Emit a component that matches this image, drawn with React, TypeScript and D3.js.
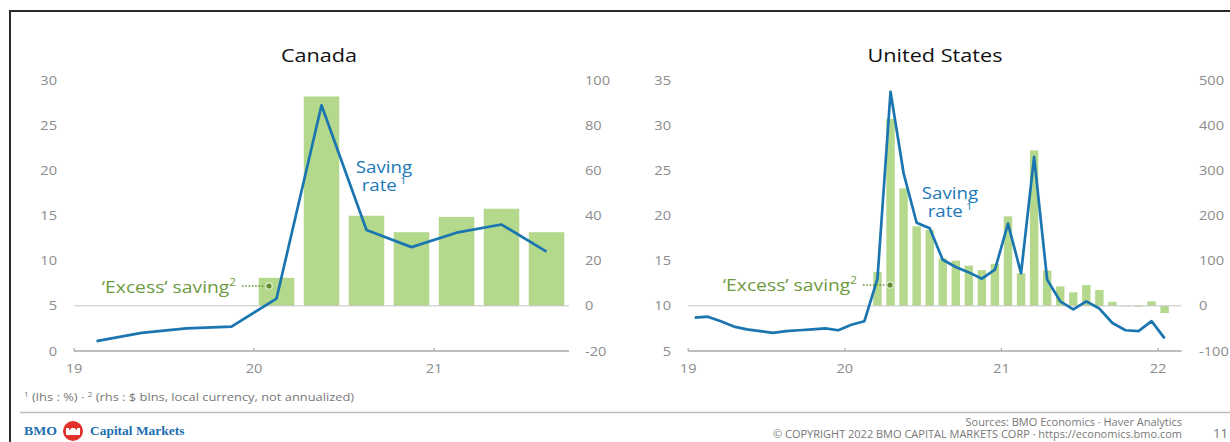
import React from "react";
import * as d3 from "d3";

// ---------- DATA ----------
const canadaQuarters = ["19Q1", "19Q2", "19Q3", "19Q4", "20Q1", "20Q2", "20Q3", "20Q4", "21Q1", "21Q2", "21Q3"];
const canadaSavingRate = [1.1, 2.0, 2.5, 2.7, 5.8, 27.2, 13.4, 11.5, 13.1, 14.0, 11.0];
const canadaExcessQuarters = ["20Q1", "20Q2", "20Q3", "20Q4", "21Q1", "21Q2", "21Q3"];
const canadaExcess = [12.4, 92.7, 39.9, 32.6, 39.4, 43.0, 32.6];

const usMonths = [
  "2019-01", "2019-02", "2019-03", "2019-04", "2019-05", "2019-06", "2019-07", "2019-08", "2019-09", "2019-10", "2019-11", "2019-12",
  "2020-01", "2020-02", "2020-03", "2020-04", "2020-05", "2020-06", "2020-07", "2020-08", "2020-09", "2020-10", "2020-11", "2020-12",
  "2021-01", "2021-02", "2021-03", "2021-04", "2021-05", "2021-06", "2021-07", "2021-08", "2021-09", "2021-10", "2021-11", "2021-12",
  "2022-01",
];
const usSavingRate = [
  8.7, 8.8, 8.3, 7.7, 7.4, 7.2, 7.0, 7.2, 7.3, 7.4, 7.5, 7.3,
  7.9, 8.3, 13.0, 33.7, 24.7, 19.2, 18.6, 15.1, 14.3, 13.7, 13.0, 14.0,
  19.1, 13.6, 26.5, 12.9, 10.5, 9.6, 10.5, 9.7, 8.1, 7.3, 7.2, 8.3,
  6.4,
];
const usExcessMonths = [
  "2020-03", "2020-04", "2020-05", "2020-06", "2020-07", "2020-08", "2020-09", "2020-10", "2020-11", "2020-12",
  "2021-01", "2021-02", "2021-03", "2021-04", "2021-05", "2021-06", "2021-07", "2021-08", "2021-09", "2021-10", "2021-11", "2021-12",
  "2022-01",
];
const usExcess = [75, 414, 260, 176, 168, 105, 100, 89, 79, 93, 198, 72, 344, 78, 43, 30, 46, 35, 9, -1, -2, 10, -16];

const canadaLhsTicks = [0, 5, 10, 15, 20, 25, 30];
const canadaRhsTicks = [-20, 0, 20, 40, 60, 80, 100];
const canadaYearTicks = ["19", "20", "21"];
const usLhsTicks = [5, 10, 15, 20, 25, 30, 35];
const usRhsTicks = [-100, 0, 100, 200, 300, 400, 500];
const usYearTicks = ["19", "20", "21", "22"];

// ---------- STYLE ----------
const FONT = "'Open Sans', 'Noto Sans', sans-serif";
const SX = 1.17;
const TICK_COLOR = "#8c8c8c";
const BAR_COLOR = "#b4d88c";
const LINE_COLOR = "#1b75b1";
const EXCESS_COLOR = "#6e9b3f";
const DOT_COLOR = "#5e8d2f";
const SAVING_COLOR = "#2079b8";

const quarterPos = (q: string) => 2000 + +q.slice(0, 2) + (+q.slice(3) - 0.5) / 4;
const monthPos = (m: string) => +m.slice(0, 4) + (+m.slice(5) - 0.5) / 12;

function T(props: any) {
  const { x, y, anchor = "start", size = 13, fill = "#000", weight = 400, family = FONT, sx = SX, dy, ls, children } = props;
  return (
    <text
      transform={`translate(${x},${y}) scale(${sx},1)`}
      textAnchor={anchor}
      fontSize={size}
      fill={fill}
      fontWeight={weight}
      fontFamily={family}
      dy={dy}
      letterSpacing={ls}
    >
      {children}
    </text>
  );
}

interface PanelProps {
  title: string;
  titleX: number;
  xDomain: [number, number];
  xRange: [number, number];
  lhsDomain: [number, number];
  rhsDomain: [number, number];
  lhsTicks: number[];
  rhsTicks: number[];
  yearTicks: string[];
  lhsLabelX: number;
  rhsLabelX: number;
  linePos: number[];
  lineVals: number[];
  barPos: number[];
  barVals: number[];
  barWidth: number;
  savingX: number;
  savingY: number;
  excessEndX: number;
  excessY: number;
  dot: [number, number];
}

function Panel(p: PanelProps) {
  const yTop = 80;
  const yBot = 351;
  const x = d3.scaleLinear().domain(p.xDomain).range(p.xRange);
  const yL = d3.scaleLinear().domain(p.lhsDomain).range([yBot, yTop]);
  const yR = d3.scaleLinear().domain(p.rhsDomain).range([yBot, yTop]);
  const line = d3
    .line<number>()
    .x((_, i) => x(p.linePos[i]))
    .y((d) => yL(d));
  const zeroY = yR(0);
  return (
    <g>
      <T x={p.titleX} y={62} anchor="middle" size={18.5} weight={500} fill="#111">
        {p.title}
      </T>
      {p.lhsTicks.map((t) => (
        <T key={"l" + t} x={p.lhsLabelX} y={yL(t)} dy="0.36em" anchor="end" size={12.5} fill={TICK_COLOR}>
          {t}
        </T>
      ))}
      {p.rhsTicks.map((t) => (
        <T key={"r" + t} x={p.rhsLabelX} y={yR(t)} dy="0.36em" anchor="start" size={12.5} fill={TICK_COLOR}>
          {t}
        </T>
      ))}
      {/* bars */}
      {p.barVals.map((v, i) => {
        const cx = x(p.barPos[i]);
        const y0 = yR(Math.max(0, v));
        const y1 = yR(Math.min(0, v));
        return <rect key={"b" + i} x={cx - p.barWidth / 2} y={y0} width={p.barWidth} height={Math.max(0.5, y1 - y0)} fill={BAR_COLOR} />;
      })}
      {/* zero line */}
      <line x1={p.xRange[0]} x2={p.xRange[1]} y1={zeroY} y2={zeroY} stroke="#c4c4c4" strokeWidth={1} />
      {/* x axis */}
      <line x1={p.xRange[0]} x2={p.xRange[1]} y1={yBot} y2={yBot} stroke="#a8a8a8" strokeWidth={1.6} />
      {p.yearTicks.map((t) => {
        const xx = x(2000 + +t);
        return (
          <g key={"x" + t}>
            <line x1={xx} x2={xx} y1={yBot} y2={yBot - 3} stroke="#a8a8a8" strokeWidth={1.2} />
            <T x={xx} y={yBot + 17} dy="0.36em" anchor="middle" size={12.5} fill={TICK_COLOR}>
              {t}
            </T>
          </g>
        );
      })}
      {/* saving rate line */}
      <path d={line(p.lineVals) || ""} fill="none" stroke={LINE_COLOR} strokeWidth={2.7} strokeLinejoin="round" />
      {/* annotations */}
      <T x={p.savingX} y={p.savingY} anchor="middle" size={16} fill={SAVING_COLOR}>
        Saving
      </T>
      <T x={p.savingX} y={p.savingY + 18} anchor="middle" size={16} fill={SAVING_COLOR}>
        {"rate\u2009"}
        <tspan dy={-7} fontSize={9.5}>
          1
        </tspan>
      </T>
      <T x={p.excessEndX} y={p.excessY} anchor="end" size={16.5} fill={EXCESS_COLOR}>
        ‘Excess’ saving
        <tspan dy={-7} fontSize={10}>
          2
        </tspan>
      </T>
      <line
        x1={p.excessEndX + 6}
        x2={p.dot[0] - 3}
        y1={p.dot[1]}
        y2={p.dot[1]}
        stroke={DOT_COLOR}
        strokeWidth={1.4}
        strokeDasharray="1.5,1.8"
      />
      <circle cx={p.dot[0]} cy={p.dot[1]} r={3.2} fill={DOT_COLOR} stroke="#e6f2d8" strokeWidth={1.2} />
    </g>
  );
}

export default function App() {
  return (
    <svg width={1230} height={442} style={{ position: "absolute", left: 0, top: 0, background: "#fff" }}>
      <rect x={0} y={0} width={1230} height={442} fill="#fff" />
      {/* frame */}
      <path d="M10,442 L10,11 L1230,11" fill="none" stroke="#2a2a2a" strokeWidth={2} />

      <Panel
        title="Canada"
        titleX={319}
        xDomain={[2019, 2021.75]}
        xRange={[74, 569]}
        lhsDomain={[0, 30]}
        rhsDomain={[-20, 100]}
        lhsTicks={canadaLhsTicks}
        rhsTicks={canadaRhsTicks}
        yearTicks={canadaYearTicks}
        lhsLabelX={57}
        rhsLabelX={585}
        linePos={canadaQuarters.map(quarterPos)}
        lineVals={canadaSavingRate}
        barPos={canadaExcessQuarters.map(quarterPos)}
        barVals={canadaExcess}
        barWidth={35.5}
        savingX={384}
        savingY={173}
        excessEndX={236}
        excessY={292.5}
        dot={[269, 286]}
      />
      <Panel
        title="United States"
        titleX={935}
        xDomain={[2019, 2022.15]}
        xRange={[688.2, 1181.6]}
        lhsDomain={[5, 35]}
        rhsDomain={[-100, 500]}
        lhsTicks={usLhsTicks}
        rhsTicks={usRhsTicks}
        yearTicks={usYearTicks}
        lhsLabelX={671}
        rhsLabelX={1199}
        linePos={usMonths.map(monthPos)}
        lineVals={usSavingRate}
        barPos={usExcessMonths.map(monthPos)}
        barVals={usExcess}
        barWidth={8.4}
        savingX={950}
        savingY={199}
        excessEndX={857}
        excessY={291}
        dot={[890, 285]}
      />

      {/* footnote */}
      <T x={24} y={401} size={11} fill="#777">
        <tspan dy={-4} fontSize={7}>1</tspan>
        <tspan dy={4}> (lhs : %) · </tspan>
        <tspan dy={-4} fontSize={7}>2</tspan>
        <tspan dy={4}> (rhs : $ blns, local currency, not annualized)</tspan>
      </T>
      <line x1={20} x2={1230} y1={412.5} y2={412.5} stroke="#bdbdbd" strokeWidth={1.5} />

      {/* logo */}
      <T x={24} y={435} size={12} sx={1.15} weight={700} family="'Liberation Serif', serif" fill="#1b6fb0">
        BMO
      </T>
      <circle cx={73} cy={431} r={10} fill="#e3302b" />
      <path d="M66,435 L66,428 L69,428 L69,430.5 L71.5,428 L74.5,428 L77,430.5 L77,428 L80,428 L80,435 Z" fill="#fff" />
      <T x={90} y={435} size={12} sx={1.12} weight={700} family="'Liberation Serif', serif" fill="#1b6fb0">
        Capital Markets
      </T>

      {/* right footer */}
      <T x={1182} y={426} anchor="end" size={10} sx={1.1} fill="#777">
        Sources: BMO Economics · Haver Analytics
      </T>
      <T x={1182} y={438} anchor="end" size={10} sx={1.1} fill="#777">
        © COPYRIGHT 2022 BMO CAPITAL MARKETS CORP · https://economics.bmo.com
      </T>
      <T x={1213} y={438} size={12} sx={1.1} fill="#777">
        11
      </T>
    </svg>
  );
}
